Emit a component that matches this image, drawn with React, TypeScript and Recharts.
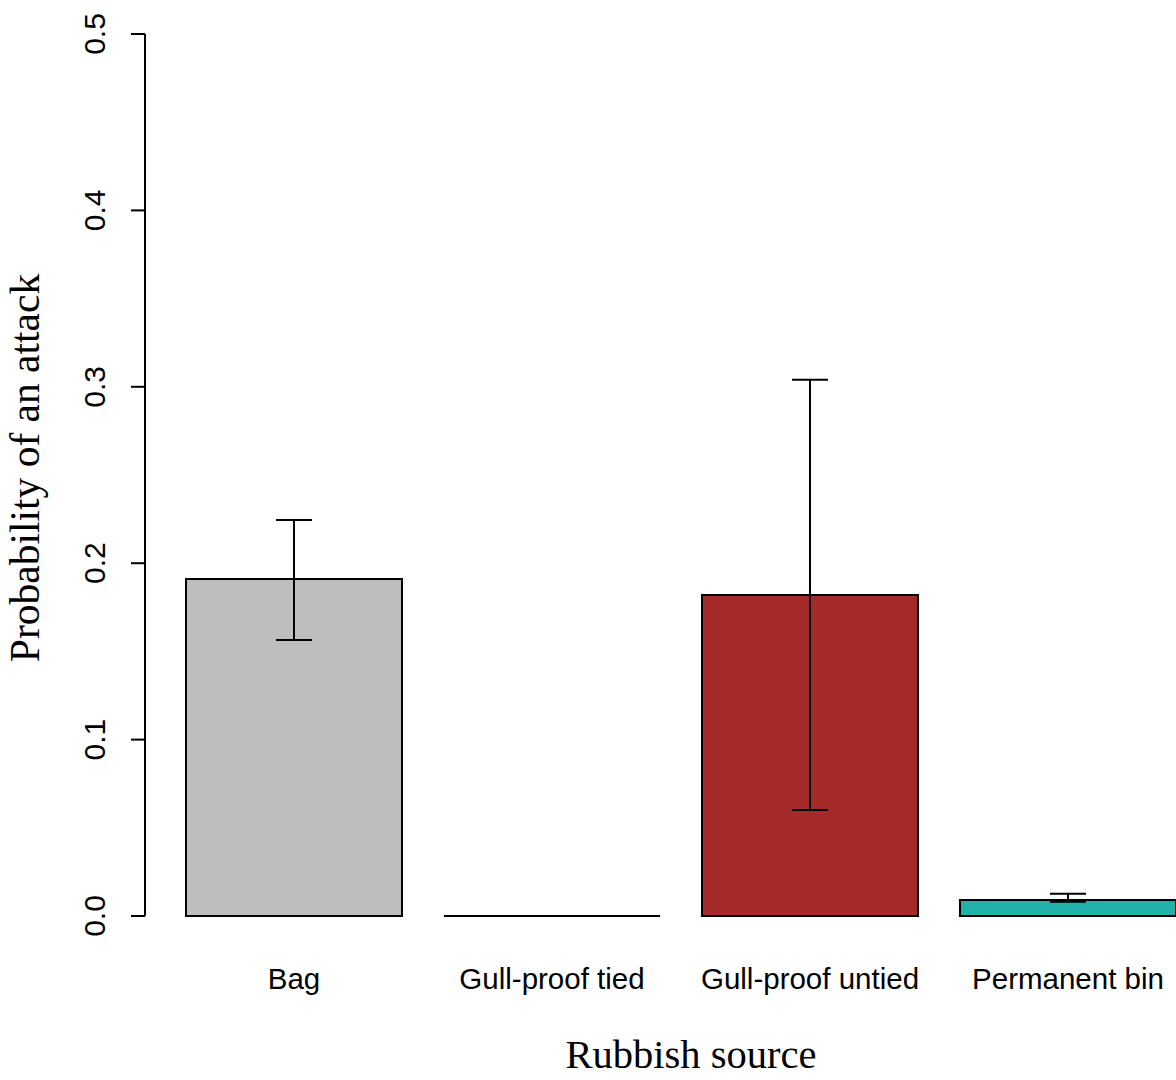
import React from "react";
import { Bar, Cell, ComposedChart, ErrorBar, Label, XAxis, YAxis } from "recharts";

const sources = ["Bag", "Gull-proof tied", "Gull-proof untied", "Permanent bin"];
const probability = [0.191, 0, 0.182, 0.009];
const lowerCI = [0.1565, 0, 0.0601, 0.0081];
const upperCI = [0.2245, 0, 0.304, 0.0126];
const barColors = ["#bebebe", "#ffffff", "#a52a2a", "#20b2aa"];
const yTicks = [0, 0.1, 0.2, 0.3, 0.4, 0.5];

const data = sources.map((name, i) => ({
  name,
  p: probability[i],
  err: [probability[i] - lowerCI[i], upperCI[i] - probability[i]],
}));

const sans = "'Liberation Sans', Arial, sans-serif";
const serif = "'Liberation Serif', 'Times New Roman', serif";

// R draws zero-height bars as a flat outline, so use a path rather than a rect
function BarShape(props: any) {
  const { x, y, width, height, fill } = props;
  return (
    <path
      d={`M${x},${y} h${width} v${height} h${-width} Z`}
      fill={fill}
      stroke="#000"
      strokeWidth={2}
    />
  );
}

function YTick({ x, y, payload }: any) {
  const bx = x - 26;
  return (
    <text
      x={bx}
      y={y}
      transform={`rotate(-90, ${bx}, ${y})`}
      textAnchor="middle"
      fontFamily={sans}
      fontSize={30}
      fill="#000"
    >
      {payload.value.toFixed(1)}
    </text>
  );
}

function XTick({ x, payload }: any) {
  return (
    <text x={x} y={989} textAnchor="middle" fontFamily={sans} fontSize={29.5} fill="#000">
      {payload.value}
    </text>
  );
}

export default function App() {
  return (
    <div style={{ position: "absolute", left: 0, top: 0, width: 1176, height: 1080, overflow: "hidden", background: "#fff" }}>
      <ComposedChart
        width={1230}
        height={1080}
        data={data}
        margin={{ top: 34, right: 33, bottom: 0, left: 0 }}
      >
        <XAxis
          dataKey="name"
          axisLine={false}
          tickLine={false}
          height={164}
          padding={{ left: 20, right: 0 }}
          tick={<XTick />}
          interval={0}
        >
          <Label
            content={() => (
              <text x={691} y={1068} textAnchor="middle" fontFamily={serif} fontSize={40.5} fill="#000">
                Rubbish source
              </text>
            )}
          />
        </XAxis>
        <YAxis
          width={145}
          domain={[0, 0.5]}
          ticks={yTicks}
          tickSize={14}
          tickMargin={0}
          tick={<YTick />}
          axisLine={{ stroke: "#000", strokeWidth: 2 }}
          tickLine={{ stroke: "#000", strokeWidth: 2 }}
        >
          <Label
            content={() => (
              <text
                x={39}
                y={468}
                transform="rotate(-90, 39, 468)"
                textAnchor="middle"
                fontFamily={serif}
                fontSize={41.5}
                fill="#000"
              >
                Probability of an attack
              </text>
            )}
          />
        </YAxis>
        <Bar dataKey="p" barSize={216} isAnimationActive={false} shape={<BarShape />}>
          {data.map((d, i) => (
            <Cell key={d.name} fill={barColors[i]} />
          ))}
          <ErrorBar dataKey="err" width={18} stroke="#000" strokeWidth={2} />
        </Bar>
      </ComposedChart>
    </div>
  );
}
